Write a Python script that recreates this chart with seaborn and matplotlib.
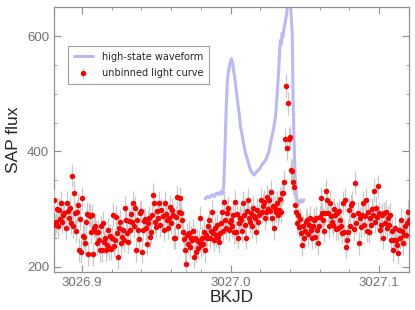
import numpy as np
import pandas as pd
import seaborn as sns
import matplotlib.pyplot as plt
from matplotlib.ticker import MultipleLocator

# short-cadence light curve (BKJD start, cadence in days)
t_start = 3026.8813
cadence = 0.000681
flux = [
    315, 272, 278, 300, 270, 299, 283, 311, 278, 290,
    293, 268, 311, 296, 284, 302, 276, 358, 270, 328,
    293, 262, 295, 307, 229, 283, 226, 319, 254, 252,
    241, 278, 292, 222, 290, 288, 261, 289, 222, 268,
    271, 261, 241, 261, 246, 229, 270, 229, 276, 242,
    250, 229, 238, 264, 232, 254, 231, 250, 290, 236,
    247, 287, 258, 216, 268, 278, 241, 252, 264, 246,
    302, 281, 258, 243, 280, 264, 292, 278, 311, 270,
    302, 229, 281, 264, 248, 293, 296, 226, 264, 280,
    282, 267, 240, 276, 285, 252, 261, 290, 325, 311,
    278, 269, 296, 285, 311, 272, 299, 288, 264, 311,
    292, 281, 268, 285, 304, 276, 299, 290, 250, 250,
    286, 321, 270, 295, 319, 293, 281, 261, 248, 229,
    205, 255, 240, 259, 235, 250, 247, 262, 217, 250,
    226, 247, 233, 243, 285, 237, 250, 240, 261, 229,
    255, 250, 270, 281, 250, 262, 295, 258, 247, 268,
    255, 272, 252, 243, 259, 276, 295, 262, 313, 281,
    268, 293, 302, 264, 278, 281, 270, 290, 260, 313,
    261, 292, 250, 276, 285, 281, 262, 311, 290, 273,
    250, 296, 316, 285, 278, 293, 270, 302, 288, 285,
    261, 299, 278, 290, 316, 295, 306, 313, 284, 295,
    321, 300, 316, 297, 330, 285, 305, 267, 302, 295,
    311, 290, 299, 318, 295, 328, 328, 347, 421, 514,
    406, 484, 421, 425, 368, 366, 347, 339, 307, 295,
    276, 290, 269, 282, 259, 238, 270, 250, 262, 278,
    281, 256, 273, 285, 264, 250, 270, 281, 252, 285,
    264, 241, 270, 287, 319, 293, 281, 262, 293, 332,
    316, 293, 270, 311, 288, 278, 273, 300, 290, 266,
    293, 267, 296, 281, 270, 259, 311, 261, 316, 235,
    247, 261, 299, 270, 307, 311, 290, 265, 346, 276,
    293, 241, 284, 269, 290, 311, 273, 288, 316, 262,
    295, 261, 285, 273, 300, 290, 332, 278, 302, 286,
    340, 293, 264, 273, 290, 250, 293, 275, 295, 268,
    285, 273, 290, 247, 262, 229, 247, 268, 247, 238,
    224, 264, 250, 281, 262, 241, 255, 270, 255, 276,
    295, 281, 278,
]
flux_err = 20

# high-state waveform
wave_time = [
    3026.9830, 3026.9845, 3026.9860, 3026.9876, 3026.9890, 3026.9905, 3026.9920,
    3026.9932, 3026.9944, 3026.9954, 3026.9960, 3026.9966, 3026.9972, 3026.9978,
    3026.9984, 3026.9990, 3026.9998, 3027.0006, 3027.0012, 3027.0021, 3027.0030,
    3027.0036, 3027.0044, 3027.0052, 3027.0060, 3027.0067, 3027.0076, 3027.0085,
    3027.0093, 3027.0101, 3027.0112, 3027.0123, 3027.0134, 3027.0146, 3027.0157,
    3027.0168, 3027.0180, 3027.0190, 3027.0202, 3027.0214, 3027.0225, 3027.0236,
    3027.0248, 3027.0259, 3027.0270, 3027.0281, 3027.0292, 3027.0303, 3027.0312,
    3027.0320, 3027.0326, 3027.0331, 3027.0337, 3027.0343, 3027.0348, 3027.0353,
    3027.0360, 3027.0366, 3027.0371, 3027.0379, 3027.0386, 3027.0392, 3027.0398,
    3027.0404, 3027.0410, 3027.0416, 3027.0422, 3027.0427, 3027.0433, 3027.0439,
    3027.0445, 3027.0450, 3027.0462, 3027.0473, 3027.0484, 3027.0495,
]
wave_flux = [
    318, 322, 320, 325, 322, 328, 325,
    330, 326, 339, 380, 432, 480, 519,
    535, 544, 555, 561, 556, 541, 525,
    512, 495, 478, 462, 443, 432, 418,
    408, 397, 388, 378, 368, 363, 359,
    362, 366, 368, 372, 378, 381, 385,
    392, 400, 415, 428, 442, 460, 490,
    520, 546, 575, 593, 586, 605, 599,
    612, 620, 628, 640, 660, 720, 720,
    660, 630, 605, 489, 430, 373, 340,
    321, 313, 310, 316, 312, 316,
]

time = t_start + cadence * np.arange(len(flux))
lc = pd.DataFrame({'time': time, 'flux': flux})
wave = pd.DataFrame({'time': wave_time, 'flux': wave_flux})

sns.set_style('ticks')
plt.rcParams['font.family'] = ['Liberation Sans', 'DejaVu Sans']

fig = plt.figure(figsize=(4.15, 3.1), dpi=100)
ax = fig.add_axes([0.130, 0.123, 0.8555, 0.853])

sns.lineplot(data=wave, x='time', y='flux', sort=False, estimator=None,
             color='#b9b9f7', lw=2.2, ax=ax, zorder=1,
             label='high-state waveform')
ax.errorbar(lc['time'], lc['flux'], yerr=flux_err, fmt='o', color='red',
            ms=2.9, ecolor='#c8c8c8', elinewidth=0.9, capsize=0, zorder=3,
            label='unbinned light curve')

ax.set_xlim(3026.881, 3027.1203)
ax.set_ylim(191, 650)
ax.xaxis.set_major_locator(MultipleLocator(0.1))
ax.xaxis.set_minor_locator(MultipleLocator(0.02))
ax.yaxis.set_major_locator(MultipleLocator(200))
ax.yaxis.set_minor_locator(MultipleLocator(50))
ax.xaxis.set_major_formatter(plt.FuncFormatter(lambda v, p: f'{v:.1f}'))

ax.tick_params(which='both', direction='in', top=True, right=True,
               color='#909090', labelcolor='#707070', labelsize=9.5)
ax.tick_params(which='major', length=5, width=0.8)
ax.tick_params(which='minor', length=2.5, width=0.6)
for s in ax.spines.values():
    s.set_color('#909090')
    s.set_linewidth(0.9)

ax.set_xlabel('BKJD', fontsize=12.5, labelpad=1)
ax.set_ylabel('SAP flux', fontsize=12.5, labelpad=4)

leg = ax.legend(loc='upper left', bbox_to_anchor=(0.039, 0.855), borderaxespad=0,
                prop={'family': 'DejaVu Sans', 'size': 7}, fancybox=False,
                edgecolor='#a0a0a0', framealpha=1, handlelength=2.0,
                handletextpad=0.9, borderpad=0.6, labelspacing=0.7)
leg.get_frame().set_linewidth(0.8)

fig.savefig('out.png', dpi=100)
